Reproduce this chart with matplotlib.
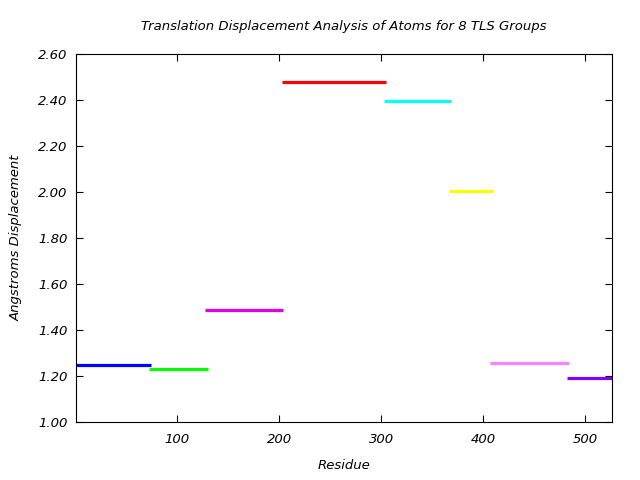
import numpy as np
import matplotlib
matplotlib.use('Agg')
import matplotlib.pyplot as plt

# TLS group residue ranges and translation displacement
start = [1, 72, 127, 203, 303, 366, 407, 482]
end = [74, 130, 204, 305, 368, 410, 484, 526]
disp = [1.246, 1.229, 1.487, 2.477, 2.394, 2.003, 1.255, 1.190]
colors = ['#0000ff', '#00ff00', '#e000e0', '#ff0000', '#00ffff', '#ffff00', '#ff80ff', '#8000ff']

xticks = [100, 200, 300, 400, 500]
yticks = np.arange(1.0, 2.61, 0.2)

fig = plt.figure(figsize=(6.4, 4.8), dpi=100)
ax = fig.add_axes([0.119, 0.121, 0.837, 0.767])
ax.hlines(disp, start, end, colors=colors, linewidth=2.3)

ax.set_xlim(1, 526)
ax.set_ylim(1.0, 2.6)
ax.set_xticks(xticks)
ax.set_yticks(yticks)
ax.set_yticklabels(['%.2f' % v for v in yticks])
ax.tick_params(direction='in', top=True, right=True, length=5, labelsize=9.5)
for lab in ax.get_xticklabels() + ax.get_yticklabels():
    lab.set_fontstyle('italic')
ax.tick_params(axis='x', pad=8)
ax.tick_params(axis='y', pad=6)

ax.set_title('Translation Displacement Analysis of Atoms for 8 TLS Groups', fontsize=9.5, style='italic', pad=17)
ax.set_xlabel('Residue', fontsize=9.5, style='italic', labelpad=9)
ax.set_ylabel('Angstroms Displacement', fontsize=9.5, style='italic', labelpad=11)

fig.savefig('out.png', dpi=100)
